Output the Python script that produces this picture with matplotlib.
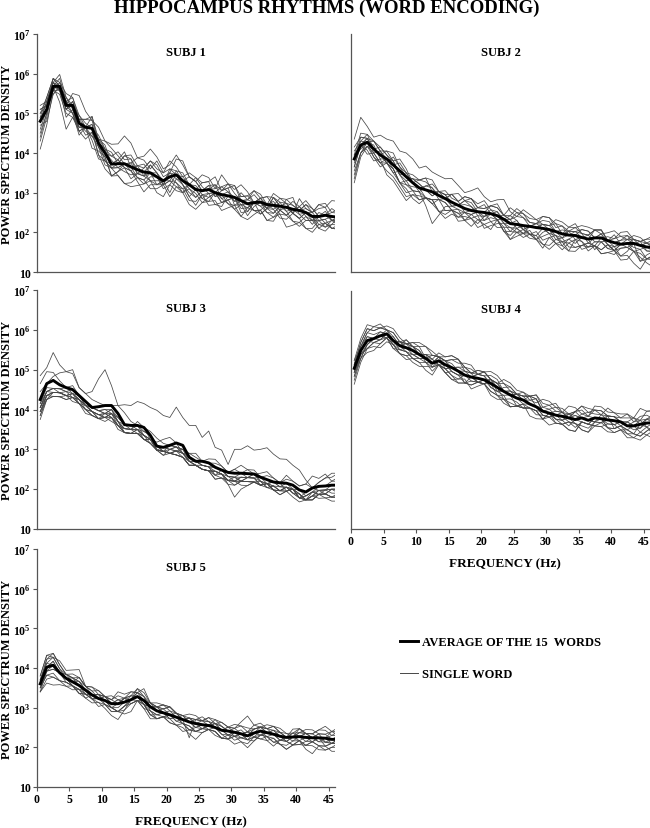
import numpy as np
import matplotlib.pyplot as plt
from matplotlib.lines import Line2D
from matplotlib.ticker import NullLocator

plt.rcParams['font.family'] = ['Liberation Serif', 'DejaVu Serif']
plt.rcParams['font.weight'] = 'bold'
plt.rcParams['mathtext.fontset'] = 'custom'
plt.rcParams['mathtext.rm'] = 'Liberation Serif:bold'
plt.rcParams['mathtext.bf'] = 'Liberation Serif:bold'

###
### Data: log10(power), 0.5 ... 46.5 Hz in 1 Hz steps
###
freq = np.arange(0.5, 47, 1.0)

avg_s1 = [4.80, 5.10, 5.68, 5.68, 5.20, 5.20, 4.75, 4.65, 4.62, 4.25,
          4.00, 3.72, 3.73, 3.73, 3.65, 3.58, 3.52, 3.50, 3.40, 3.30,
          3.40, 3.45, 3.30, 3.20, 3.08, 3.05, 3.08, 3.00, 2.95, 2.92,
          2.88, 2.80, 2.72, 2.75, 2.76, 2.70, 2.68, 2.66, 2.63, 2.58,
          2.55, 2.50, 2.40, 2.40, 2.43, 2.40, 2.38]
avg_s2 = [3.85, 4.20, 4.27, 4.10, 3.95, 3.85, 3.70, 3.55, 3.40, 3.25,
          3.12, 3.07, 3.02, 2.93, 2.85, 2.76, 2.68, 2.60, 2.55, 2.52,
          2.50, 2.47, 2.42, 2.33, 2.22, 2.20, 2.17, 2.15, 2.12, 2.10,
          2.07, 2.02, 1.96, 1.93, 1.92, 1.87, 1.83, 1.86, 1.86, 1.79,
          1.74, 1.70, 1.72, 1.72, 1.67, 1.63, 1.62]
avg_s3 = [4.25, 4.65, 4.73, 4.62, 4.55, 4.50, 4.35, 4.20, 4.05, 4.07,
          4.10, 4.10, 3.90, 3.62, 3.60, 3.60, 3.55, 3.35, 3.08, 3.05,
          3.10, 3.16, 3.10, 2.80, 2.70, 2.70, 2.66, 2.55, 2.48, 2.42,
          2.40, 2.40, 2.39, 2.38, 2.30, 2.24, 2.18, 2.16, 2.15, 2.10,
          1.98, 1.93, 2.03, 2.07, 2.08, 2.10, 2.10]
avg_s4 = [5.05, 5.50, 5.75, 5.80, 5.87, 5.92, 5.75, 5.62, 5.57, 5.50,
          5.40, 5.30, 5.18, 5.24, 5.14, 5.07, 4.98, 4.88, 4.83, 4.80,
          4.76, 4.67, 4.57, 4.47, 4.38, 4.30, 4.25, 4.15, 4.08, 3.97,
          3.92, 3.87, 3.84, 3.80, 3.76, 3.80, 3.74, 3.80, 3.78, 3.75,
          3.73, 3.70, 3.60, 3.60, 3.64, 3.67, 3.68]
avg_s5 = [3.60, 4.02, 4.07, 3.88, 3.74, 3.65, 3.56, 3.44, 3.32, 3.23,
          3.18, 3.10, 3.10, 3.14, 3.20, 3.28, 3.18, 3.02, 2.92, 2.87,
          2.82, 2.76, 2.70, 2.64, 2.60, 2.57, 2.55, 2.50, 2.43, 2.41,
          2.38, 2.34, 2.29, 2.36, 2.41, 2.37, 2.33, 2.28, 2.25, 2.26,
          2.27, 2.25, 2.24, 2.24, 2.23, 2.20, 2.20]

# single words: offset from the average, in tenths of a decade
single_s1 = [
    [2,1,1,0,1,2,2,0,3,1, 2,0,1,3,0,1,-1,2,1,0, 1,-1,0,2,2,0,1,-1,0,1, -1,2,1,0,0,-1,2,0,1,1, 0,2,2,0,1,-1,0],
    [-7,-4,-1,-2,-2,-3,-1,0,-3,-4, -2,-1,-3,-5,-4,-2,-2,-4,-3,-1, -5,-3,-2,-4,-3,-1,-4,-3,-2,-1, -3,-4,-1,-2,-2,-4,-4,-1,-2,-3, -3,-1,-1,-3,-4,-2,-2],
    [3,1,2,0,0,3,7,4,2,4, 3,5,5,7,6,3,4,6,5,3, 3,5,4,2,2,4,3,1,5,3, 2,4,3,0,1,2,2,0,0,2, 1,3,2,0,0,2,1],
    [-3,-1,0,-4,-6,-3,-2,0,-5,-2, -1,-3,-2,0,-1,-2,-3,-1,0,-2, -2,0,-1,-3,-4,-1,-2,0,-1,-2, -3,-1,0,-2,-2,0,-1,-3,-3,-1, -2,0,0,-3,-2,-1,-1],
    [4,2,1,3,2,0,1,2,2,0, 1,3,0,2,2,-1,1,3,3,1, 1,4,5,2,2,0,0,2,1,3, 3,0,1,3,2,0,0,2,1,-1, 3,1,1,2,2,-1,0],
    [-1,-3,-2,0,1,-2,-3,0,0,-3, -2,0,1,-1,-3,-1,-1,-2,-2,0, -4,-1,-1,-3,0,-2,-3,0,-2,-1, 0,-3,-2,0,-1,-2,-3,-1,0,-1, -2,-4,-3,-1,-1,-3,-2],
    [1,3,2,0,-1,1,0,-1,-2,1, 3,4,2,0,1,3,3,1,4,2, 2,0,1,3,3,1,-1,0,2,3, 1,0,-2,0,1,2,0,-1,2,3, -1,0,1,3,3,1,2],
    [-2,0,-1,1,0,-2,-1,0,1,-1, -1,-3,-2,-1,-1,-3,-5,-3,-2,0, -1,-2,-3,-1,-1,-3,-2,0,0,-2, -2,-1,-3,-1,0,-2,-2,0,-1,-3, -4,-2,-1,0,-2,-3,-3],
    [0,2,1,-1,-1,1,1,0,0,2, 1,2,3,1,2,0,0,2,1,-1, 2,1,0,-1,-2,0,1,2,-1,0, 0,1,2,0,-1,0,1,-1,-2,0, 0,1,1,-1,-1,0,0],
    [3,1,-2,0,2,-1,-1,0,1,-1, -3,-1,-1,-2,-2,-1,0,-2,-1,0, 0,-2,-2,0,1,-1,-1,-3,-3,0, -1,0,0,-2,-3,-1,-1,1,1,-1, -2,0,0,-2,-3,-1,-1],
    [-4,-1,0,2,1,0,2,1,0,1, 1,-1,0,2,3,1,2,0,1,-1, -1,1,2,0,0,2,2,-1,1,2, -2,0,1,2,0,-1,2,1,-1,0, 1,-1,-2,0,0,1,1],
    [1,0,-1,-1,-1,-2,-2,-3,-1,-3, -4,-3,-3,-5,-5,-4,-3,-2,-4,-4, -2,-4,-3,-5,-5,-3,-3,-2,-4,-3, -2,-4,-4,-3,-2,-4,-3,-2,-5,-4, -3,-4,-4,-2,-2,-3,-3],
    [2,3,2,1,3,2,1,2,3,0, 0,2,1,-1,-1,1,1,3,2,2, 4,2,1,0,3,2,2,4,1,2, 3,1,2,3,1,0,3,2,2,1, 0,2,1,3,2,4,4],
    [-5,-2,0,-1,-1,0,0,-2,-1,0, -2,-1,-1,0,0,-2,-2,0,0,-1, -1,-3,-3,0,0,-2,-1,0,-2,-1, 0,-2,-1,0,-3,-1,0,-2,-2,0, -1,-2,-1,-1,-3,-2,0],
    [0,2,1,-1,-3,-1,-2,0,-2,-1, 0,1,-1,0,1,-1,-1,0,-2,-1, 1,0,-1,-2,-2,0,0,1,2,1, 0,-1,-1,0,1,-1,-2,0,0,-1, 1,0,-1,1,0,-1,-2],
]
single_s2 = [
    [5,7,4,3,5,5,6,5,6,6, 5,6,5,5,5,6,5,4,5,6, 4,3,4,5,3,2,4,3,2,3, 3,2,2,1,1,2,2,0,0,1, 1,2,2,0,0,1,1],
    [-6,-3,-1,-2,-2,-3,-3,-4,-5,-3, -2,-2,-3,-4,-4,-2,-2,-3,-1,-2, -3,-4,-1,-3,-4,-2,-2,-1,-3,-5, -2,-1,-3,-4,-1,-3,-2,-2,-4,-3, -3,-1,-1,-2,-4,-3,-2],
    [1,3,2,0,0,2,1,-1,-1,1, 2,2,1,0,0,2,1,3,3,1, 1,2,3,1,2,4,3,1,1,2, 2,0,0,2,3,1,1,2,2,0, 1,3,3,1,1,2,2],
    [-2,0,-3,-1,1,0,-1,-3,-4,-2, -1,-4,-8,-5,-2,-1,-1,-3,-4,-2, -2,0,-1,-3,-3,-1,0,-2,-2,0, -1,-3,-3,-1,-2,0,0,-3,-1,-2, -1,-3,-2,0,-4,-2,-1],
    [3,2,1,0,2,1,0,2,1,0, 2,3,0,1,2,1,1,3,3,1, 1,2,2,1,4,3,2,1,1,3, 3,1,2,0,0,2,2,0,1,2, 3,2,1,0,0,1,2],
    [-4,-2,0,-2,-3,-1,-2,-3,-1,-2, -3,-2,-2,-4,-3,-2,-4,-3,-2,-1, -4,-3,-2,-1,-1,-2,-3,-2,-2,-4, -4,-2,-1,-3,-3,-2,-2,-1,-1,-2, -2,-4,-4,-2,-2,-3,-3],
    [0,2,1,2,2,1,1,3,2,0, 0,1,2,1,1,0,0,2,3,2, 3,1,0,1,1,2,2,0,0,1, 1,2,0,1,2,3,3,2,1,0, 0,1,1,2,2,1,0],
    [-1,0,-2,-3,-1,-4,-4,-5,-6,-3, -3,-2,-2,-1,-1,-2,-3,-1,-1,0, -2,-1,-1,-3,-2,0,-1,-2,-3,-1, 0,-2,-2,-4,-4,-2,-1,-2,-3,-1, -2,0,0,-2,-1,-3,-3],
    [2,1,0,2,1,-1,2,1,0,1, 1,0,-1,1,0,-1,0,2,2,0, -1,1,1,0,2,1,-1,0,0,1, 1,0,-1,1,1,0,0,2,2,0, -1,0,1,1,0,-1,-1],
    [-3,-2,-1,0,0,-1,-1,-3,-2,-1, 0,-2,-3,-1,-1,-2,-2,-1,-1,0, 0,-2,-3,-2,-1,-1,-2,-2,-1,-3, -2,-3,-4,-2,-1,-1,-3,-2,0,-1, -2,-1,-1,-2,-3,-4,-5],
    [1,-1,0,1,-1,0,1,-1,1,0, -1,1,1,-1,0,2,1,-1,0,1, 2,0,-1,0,1,-1,-2,0,1,0, -1,0,1,1,-1,0,1,-1,-1,0, 2,0,-1,0,1,1,0],
    [-2,0,1,-1,-2,-1,-1,-3,-3,-4, -4,-2,-2,-4,-5,-3,-3,-2,-2,-4, -3,-2,-1,-2,-4,-3,-2,-3,-3,-4, -5,-3,-2,-2,-3,-2,-1,-2,-4,-3, -2,-3,-3,-5,-6,-3,-2],
    [0,1,2,2,1,2,3,1,1,2, 2,3,3,1,1,2,3,2,1,0, 0,2,2,1,1,3,3,2,2,1, 1,3,3,2,2,1,1,2,2,0, 0,1,2,1,1,2,3],
    [-5,-2,-1,-1,-2,0,0,-1,-2,-2, -1,-2,-2,-1,-3,-2,-1,-1,-2,-3, -1,0,0,-1,-2,-2,-1,-2,-3,-2, -1,-1,-2,-1,0,-1,-2,-2,-3,-1, -2,0,0,-1,-1,0,-1],
    [1,0,1,0,0,-1,-2,0,0,1, 1,0,-1,1,1,-1,0,1,1,-1, -1,0,1,-1,0,1,-1,0,1,1, 0,-1,-1,0,1,1,-1,0,1,-1, -1,0,0,1,1,-1,-1],
]
single_s3 = [
    [6,4,7,5,4,5,2,2,4,7, 9,5,2,3,1,0,0,1,2,1, 0,-1,-1,1,1,0,0,1,1,0, 1,0,1,1,0,1,1,0,1,1, 1,2,0,1,2,2,3],
    [2,0,1,3,4,4,2,2,2,1, 0,0,2,5,5,6,6,7,9,8, 7,9,7,8,9,6,8,5,5,2, 6,6,7,6,7,8,7,6,6,5, 5,3,0,1,2,3,3],
    [4,3,2,1,0,1,0,-1,0,-1, -2,-1,-2,0,-1,1,0,-1,1,2, 2,0,-2,1,2,0,1,2,1,0, 1,2,1,0,1,2,1,0,2,1, 1,2,3,2,3,1,2],
    [-2,-3,-3,-2,-1,-2,-1,-2,-1,-3, -2,-3,-3,-1,-1,-2,-2,-1,-1,0, -1,-2,-2,-1,-1,-2,-2,-1,-1,-2, -1,-2,-1,-1,-2,-1,-1,-2,-1,-1, -1,-2,-2,-1,-1,-2,-2],
    [-4,-4,-4,-3,-3,-2,-2,-3,-2,-3, -3,-4,-3,-2,-2,-2,-3,-1,0,-1, -2,-3,-3,-1,-1,-2,-2,-3,-2,-2, -3,-2,-2,-2,-2,-1,-2,-3,-2,-1, -2,-2,-3,-2,-2,-3,-3],
    [-1,-1,-2,-1,0,-1,0,-1,0,-1, -1,-2,-1,0,0,-1,-1,0,-1,-1, -1,-2,-1,-1,0,-1,-1,-2,0,-1, -1,0,-1,-1,0,-1,0,-1,0,-1, 0,-1,-1,0,0,1,1],
    [-5,-4,-3,-2,-2,-3,-2,-1,-1,-3, -4,-3,-4,-2,-2,-2,-3,-2,-1,-1, -2,-3,-3,-2,-1,-2,-2,-1,-1,-3, -6,-4,-3,-2,-2,-2,-2,-3,-2,-3, -3,-2,-2,-3,-3,-4,-4],
    [-2,-2,-2,-1,-1,-1,-1,-1,0,-1, -2,-1,-2,-1,-1,0,-2,-1,0,0, -1,-1,-2,0,0,-1,-1,0,0,-1, -2,-1,-1,0,-1,-1,0,-1,-1,-2, -2,-1,-1,-2,-2,-1,-1],
    [-3,-3,-3,-2,-2,-2,-1,-1,-1,-2, -3,-2,-3,-2,-2,-1,-3,-2,-1,-1, -2,-3,-3,-2,-1,-2,-2,-1,-1,-2, -2,-3,-3,-2,-1,-2,-1,-2,-2,-1, -1,-2,-3,-2,-1,-1,-2],
    [-2,-2,-3,-2,-2,-1,-2,-2,-1,-2, -2,-2,-2,-1,-1,-1,-2,-1,-1,-2, -1,-1,-2,-1,-1,-1,-1,-2,-1,-1, -1,-2,-1,-1,-2,-1,-1,-2,-2,-1, -2,-1,-1,-2,-2,-1,-1],
    [-4,-3,-4,-3,-3,-2,-2,-2,-2,-3, -3,-3,-3,-2,-2,-2,-3,-1,-1,-2, -2,-3,-3,-2,-1,-2,-2,-3,-2,-2, -2,-2,-2,-2,-2,-1,-2,-2,-1,-2, -1,-2,-3,-2,-2,-3,-3],
    [-1,-2,-2,-1,-1,0,0,0,0,-1, -1,-1,-1,0,0,0,-1,0,0,-1, 0,-1,-1,0,0,-1,-1,0,0,-1, -1,-1,-1,0,-1,-1,0,0,-2,-1, -2,0,0,-1,-1,0,0],
    [-3,-3,-3,-2,-2,-1,-1,-1,-1,-2, -3,-2,-2,-2,-2,-1,-2,-2,-1,-1, -2,-2,-2,-1,-1,-2,-2,-1,-1,-2, -2,-2,-2,-2,-2,-1,-2,-2,-1,-2, -2,-2,-2,-2,-3,-3,-2],
    [-2,-2,-2,-2,-2,-1,-1,-1,-1,-2, -2,-3,-3,-1,-1,-1,-2,-1,-1,-1, -2,-2,-2,-1,0,-1,-1,-1,-1,-2, -2,-1,-1,-1,-1,-2,-1,-1,-1,-1, -1,-2,-2,-1,-1,-1,-1],
    [-3,-4,-4,-3,-2,-2,-2,-2,-2,-3, -3,-2,-2,-2,-2,-2,-3,-2,-1,-1, -2,-2,-3,-2,-1,-2,-2,-2,-2,-3, -3,-2,-2,-2,-2,-1,-2,-2,-1,-1, -2,-2,-1,-1,-2,-3,-3],
]
single_s4 = [
    [1,2,3,2,2,1,1,0,2,1, 0,1,1,2,2,3,3,2,1,1, 2,3,3,2,1,1,2,2,0,1, 2,3,1,0,2,3,2,1,1,3, 2,1,3,2,4,3,3],
    [-4,-3,-2,-2,-3,-2,-1,-2,-2,-3, -3,-2,-1,-1,-2,-3,-2,0,0,-1, -1,-3,-3,-2,-2,-2,-1,-3,-3,-2, 0,-1,-2,-1,-1,-3,-3,-2,-2,-1, -1,-2,-3,-3,-2,-3,-4],
    [2,3,4,3,2,2,3,2,1,1, 2,3,3,1,1,2,3,2,1,2, 2,1,1,3,3,2,2,1,1,3, 3,2,2,1,0,1,1,2,2,1, 1,0,0,1,2,2,1],
    [-2,-2,-3,-3,-2,-1,-2,-2,-3,-2, -1,-1,-2,-1,0,-1,-1,-2,0,1, 1,0,-2,-2,-1,-1,-2,-1,-1,-2, -1,0,0,-1,-2,-1,-1,0,0,-2, -3,-2,-1,0,-2,-1,0],
    [0,1,2,3,3,1,2,1,0,1, 1,0,2,1,1,2,2,3,3,1, 1,2,2,0,0,1,1,2,2,0, 0,1,1,0,2,3,3,2,2,1, 1,0,1,0,0,1,2],
    [-1,-2,-1,0,0,-1,-2,-1,-1,-2, -2,-3,-3,-1,-1,-2,-2,-1,-3,-2, -1,0,0,-2,-3,-2,-2,-1,-1,-2, 0,-1,-1,-2,0,-1,-1,-2,-1,0, 0,-1,-2,-2,-3,-2,-1],
    [1,0,1,0,-1,0,0,1,2,1, 1,-1,0,1,-1,0,1,2,2,1, 1,-1,-1,1,2,1,1,2,3,1, 1,0,-1,1,2,0,0,-1,1,0, -1,0,1,2,0,1,1],
    [-3,-2,-1,0,1,0,-1,-1,0,-1, -1,0,1,-1,-2,-1,-1,0,-1,-1, 0,-1,-1,0,0,-2,-2,-1,-1,0, 0,-2,-2,-3,-3,-1,-1,0,0,-2, -2,-1,-1,-2,0,-1,-3],
    [2,1,2,1,1,0,0,1,1,2, 3,3,2,1,2,3,3,1,1,2, 2,1,1,2,2,1,0,2,3,2, 2,1,1,1,2,2,1,3,3,2, 2,2,3,1,1,1,1],
    [-1,0,0,-1,-2,-1,1,0,-1,-1, 0,1,-1,0,1,1,0,-2,-2,-1, -1,1,0,0,1,0,-1,0,0,-1, -1,0,1,0,-1,-2,-2,-1,0,-1, -1,0,0,0,1,-1,-2],
    [0,-1,-1,0,0,1,2,1,1,2, 2,0,0,1,1,-1,-1,0,0,-1, 0,1,-1,-1,0,1,1,2,2,0, 0,-1,-1,0,1,0,1,0,0,1, -2,-1,1,0,-1,0,0],
    [-2,-1,-2,-1,-1,-1,-1,-2,-2,-1, -1,0,0,-1,-1,-2,-3,-2,-2,-1, -1,-2,-2,-1,-3,-2,-2,-1,-1,-2, -3,-2,-2,-3,-3,-1,-1,-2,-2,-3, -3,-2,-2,-3,-4,-3,-2],
    [1,2,3,2,2,1,0,0,1,1, 0,1,2,1,1,0,1,1,0,1, 2,1,1,0,1,1,0,1,2,0, 1,2,1,3,3,1,2,2,1,1, 1,1,2,2,1,3,3],
    [-1,-1,-2,-1,-1,0,0,-1,-1,-2, -2,-1,-1,-1,-2,-3,-3,-2,-1,-1, -1,-2,-2,-3,-3,-2,-1,-1,-2,-1, -1,-2,-2,-1,-1,-3,-3,-1,-1,-2, -2,-1,-1,-2,-3,-2,-1],
    [0,1,1,0,0,-1,-1,1,1,0, 0,1,1,-1,-1,0,0,1,1,-1, -1,1,1,0,0,1,1,0,0,-1, -1,0,0,1,1,0,0,-1,-1,1, 1,0,0,-1,-1,1,0],
]
single_s5 = [
    [2,3,3,2,1,1,2,1,0,1, 1,1,3,2,2,1,1,0,1,2, 2,1,1,1,0,1,2,2,1,0, 1,0,1,2,2,1,1,0,0,2, 2,1,1,2,3,2,1],
    [-2,-4,-5,-3,-2,-2,-1,-2,-2,-1, -1,-2,-2,-3,-3,-1,-1,-2,-2,-1, -1,-2,-2,-3,-4,-2,-1,-2,-2,-1, -1,-2,-3,-2,-1,-1,-2,-2,-3,-2, -1,-3,-4,-2,-2,-3,-3],
    [1,2,2,3,2,3,4,1,1,0, 1,2,1,0,0,1,3,1,1,2, 2,1,0,-4,1,1,2,1,0,1, 1,3,5,2,1,0,0,1,1,0, 2,1,0,1,1,2,2],
    [-1,-2,-3,-2,-1,-1,-2,-2,0,0, -1,-1,-2,-2,0,0,-1,-2,-2,-1, 0,-1,-1,-2,-1,0,-1,-1,-2,-2, 0,0,-1,-1,-2,-1,0,0,-1,-2, -2,-1,-1,0,0,-1,-1],
    [0,2,3,2,1,0,2,1,2,2, 1,0,1,1,0,2,1,1,0,1, 2,1,0,1,1,1,0,2,2,1, 0,1,0,1,1,2,2,1,0,0, 1,2,2,1,1,0,0],
    [-1,-2,-2,-2,-2,-1,-1,-1,-1,-1, -2,-3,-4,-2,-1,-1,-2,-3,-2,-1, -2,-2,-3,-2,-2,-2,-1,-1,-2,-2, -3,-2,-2,-1,-2,-2,-1,-2,-3,-2, -2,-2,-1,-2,-3,-2,-2],
    [1,0,1,0,0,1,1,0,-1,0, 1,0,0,1,-1,-1,0,1,1,0, -1,0,1,0,-1,-1,0,1,1,0, -1,0,1,0,-1,0,1,1,0,-1, 0,1,0,-1,0,1,1],
    [-2,-1,-1,0,0,-1,-2,-1,-1,0, 0,-1,-2,-1,0,-1,-1,-2,-1,0, -1,0,-1,-2,-2,-1,-1,0,0,-1, -2,-1,-1,0,0,-2,-3,-1,-1,-2, -1,0,-1,-2,-2,-1,-1],
    [2,3,2,1,1,2,2,1,1,2, 1,1,2,1,1,2,2,1,1,1, 2,1,1,2,2,1,1,1,2,1, 1,2,2,1,1,1,2,2,1,1, 2,1,1,2,2,1,2],
    [0,-1,-1,0,1,1,0,-1,0,1, 0,-1,-1,0,1,0,-1,0,1,1, 0,-1,0,1,0,-1,0,1,0,-1, 0,0,1,-1,-1,0,1,0,-1,0, 0,-1,0,1,-1,-1,0],
    [-1,-1,0,0,-1,-1,-2,-1,0,1, -1,-2,-2,-1,0,0,-1,-1,-2,-1, 0,0,-1,-1,-2,-1,0,0,-1,-2, -1,0,-1,-1,0,-1,-2,-1,0,0, -1,-2,-1,0,-2,-1,0],
    [1,1,2,1,0,0,1,1,2,1, 1,1,0,1,2,1,0,1,2,2, 1,0,0,1,1,2,1,0,0,1, 2,2,1,0,1,1,2,1,0,1, 0,1,1,0,0,2,3],
    [-2,-3,-3,-2,-1,-1,-1,-1,-1,-2, -1,-1,-2,-1,-1,-1,-2,-1,-1,-1, -2,-2,-1,-1,-2,-1,-1,-1,-2,-2, -1,-1,-1,-2,-1,-1,-1,-2,-2,-1, -1,-2,-2,-3,-3,-2,-1],
    [0,0,1,0,0,-1,-1,0,0,1, 1,0,1,0,0,1,1,-1,-1,0, 1,1,0,0,1,1,1,0,-1,-1, 0,0,1,1,1,0,0,-1,-1,0, 1,1,0,0,-1,-1,0],
    [1,1,0,0,1,1,1,0,-1,0, 0,-1,0,1,1,0,-1,0,1,0, 0,1,1,0,-1,0,0,1,1,0, 0,-1,0,1,1,1,0,-1,0,1, 1,1,0,-1,-1,0,1],
]

titles   = ['SUBJ 1', 'SUBJ 2', 'SUBJ 3', 'SUBJ 4', 'SUBJ 5']
averages = [avg_s1, avg_s2, avg_s3, avg_s4, avg_s5]
singles  = [single_s1, single_s2, single_s3, single_s4, single_s5]

ytick_vals   = [1e1, 1e2, 1e3, 1e4, 1e5, 1e6, 1e7]
ytick_labels = ['10', r'$\mathbf{10^{2}}$', r'$\mathbf{10^{3}}$', r'$\mathbf{10^{4}}$',
                r'$\mathbf{10^{5}}$', r'$\mathbf{10^{6}}$', r'$\mathbf{10^{7}}$']
xtick_vals   = [0, 5, 10, 15, 20, 25, 30, 35, 40, 45]

###
### Layout (pixels: left, top, width, height)
###
W, H = 650, 829
panels = [
    {'rect': (37, 35, 298, 238),  'yticks': True,  'xticks': False},
    {'rect': (351, 35, 299, 238), 'yticks': False, 'xticks': False},
    {'rect': (37, 291, 298, 239), 'yticks': True,  'xticks': False},
    {'rect': (351, 292, 299, 238),'yticks': False, 'xticks': True},
    {'rect': (37, 550, 298, 238), 'yticks': True,  'xticks': True},
]
spine_col = '#555555'
thin_col  = '#474747'

fig = plt.figure(figsize=(W/100, H/100), dpi=100)

for p, title, avg, sgl in zip(panels, titles, averages, singles):
    l, t, w, h = p['rect']
    ax = fig.add_axes([l/W, 1-(t+h)/H, w/W, h/H])
    avg = np.array(avg)
    for dev in sgl:
        ax.plot(freq, 10**(avg + 0.1*np.array(dev)),
                color=thin_col, lw=0.55, zorder=2)
    ax.plot(freq, 10**avg, color='black', lw=2.1, zorder=3)

    ax.set_yscale('log')
    ax.set_ylim(10, 1e7)
    ax.set_xlim(0, 46)
    ax.yaxis.set_minor_locator(NullLocator())
    for s in ['top', 'right']:
        ax.spines[s].set_visible(False)
    for s in ['left', 'bottom']:
        ax.spines[s].set_color(spine_col)
        ax.spines[s].set_linewidth(0.9)
    ax.tick_params(colors=spine_col, labelcolor='black', length=3, width=0.8,
                   labelsize=8.5, pad=1.5)

    if p['yticks']:
        ax.set_yticks(ytick_vals)
        ax.set_yticklabels(ytick_labels)
        ax.text(-30/w, 0.5, 'POWER SPECTRUM DENSITY', transform=ax.transAxes,
                rotation=90, ha='center', va='center', fontsize=9, fontweight='bold')
    else:
        ax.set_yticks([])
    if p['xticks']:
        ax.set_xticks(xtick_vals)
        ax.text(0.515, -34/h, 'FREQUENCY (Hz)', transform=ax.transAxes,
                ha='center', va='center', fontsize=9.5, fontweight='bold')
    else:
        ax.set_xticks([])

    ax.text(0.5, 0.925, title, transform=ax.transAxes, ha='center', va='center',
            fontsize=9, fontweight='bold')

fig.text(0.503, 1-8/H, 'HIPPOCAMPUS RHYTHMS (WORD ENCODING)', ha='center', va='center',
         fontsize=13.5, fontweight='bold')

handles = [Line2D([], [], color='black', lw=2.1), Line2D([], [], color=thin_col, lw=0.7)]
fig.legend(handles, ['AVERAGE OF THE 15  WORDS', 'SINGLE WORD'],
           loc='upper left', bbox_to_anchor=(400/W, 1-637/H), frameon=False,
           fontsize=9, handlelength=1.4, handletextpad=0.4, labelspacing=1.6,
           borderpad=0, borderaxespad=0)

fig.savefig('out.png', dpi=100)
